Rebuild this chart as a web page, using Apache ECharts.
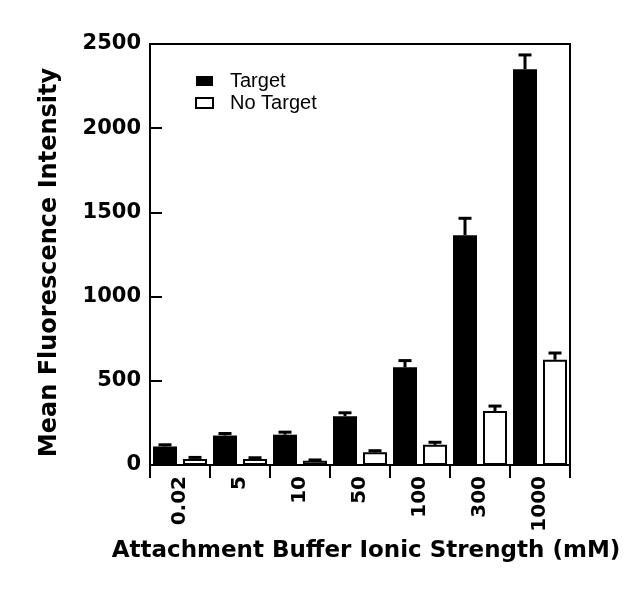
<!DOCTYPE html>
<html><head><meta charset="utf-8">
<script src="https://cdn.jsdelivr.net/npm/echarts@6/dist/echarts.min.js"></script>
<style>html,body{margin:0;padding:0;background:#fff}#c{width:641px;height:600px}</style>
</head><body><div id="c"></div>
<script>
const categories = ['0.02', '5', '10', '50', '100', '300', '1000'];
const targetValues = [110, 175, 180, 290, 580, 1365, 2350];
const targetErrors = [10, 12, 15, 20, 40, 100, 85];
const noTargetValues = [35, 35, 25, 75, 120, 320, 625];
const noTargetErrors = [10, 8, 5, 10, 15, 30, 40];
const yTicks = [0, 500, 1000, 1500, 2000, 2500];

const FONT = 'DejaVu Sans';
function errData(vals, errs) { return vals.map((v, i) => [i, v, errs[i]]); }
function errSeries(vals, errs, offset) {
  return {
    type: 'custom', z: 5,
    data: errData(vals, errs),
    encode: { x: 0, y: 1 },
    renderItem: function (params, api) {
      const i = api.value(0), v = api.value(1), e = api.value(2);
      const w = api.size([1, 0])[0];
      const base = api.coord([i, v]);
      const top = api.coord([i, v + e]);
      const x = base[0] + offset * w;
      return {
        type: 'group', children: [
          { type: 'line', shape: { x1: x, y1: base[1], x2: x, y2: top[1] }, style: { stroke: '#000', lineWidth: 3 } },
          { type: 'line', shape: { x1: x - 6.5, y1: top[1], x2: x + 6.5, y2: top[1] }, style: { stroke: '#000', lineWidth: 3 } }
        ]
      };
    }
  };
}

const chart = echarts.init(document.getElementById('c'), null, { renderer: 'canvas' });
chart.setOption({
  animation: false,
  backgroundColor: '#fff',
  grid: { left: 150, right: 71, top: 44, bottom: 135, show: true, borderColor: '#000', borderWidth: 2 },
  legend: {
    left: 190, top: 66, orient: 'vertical', itemWidth: 17, itemHeight: 10, itemGap: 2,
    textStyle: { fontFamily: 'Liberation Sans', fontSize: 20, color: '#000', padding: [0, 0, 0, 12] },
    data: [
      { name: 'Target', icon: 'rect', itemStyle: { color: '#000' } },
      { name: 'No Target', icon: 'rect', itemStyle: { color: '#fff', borderColor: '#000', borderWidth: 2 } }
    ]
  },
  xAxis: {
    type: 'category', data: categories,
    axisLine: { lineStyle: { color: '#000', width: 2 } },
    axisTick: { show: true, length: 13, lineStyle: { color: '#000', width: 2 } },
    axisLabel: { rotate: 90, margin: 11, fontFamily: FONT, fontWeight: 'bold', fontSize: 20, color: '#000' },
    name: 'Attachment Buffer Ionic Strength (mM)', nameLocation: 'middle', nameGap: 75,
    nameTextStyle: { fontFamily: FONT, fontWeight: 'bold', fontSize: 23, color: '#000', padding: [0, 0, 0, 12] }
  },
  yAxis: {
    type: 'value', min: 0, max: 2500, interval: 500,
    splitLine: { show: false },
    axisLine: { show: true, lineStyle: { color: '#000', width: 2 } },
    axisTick: { show: true, inside: true, length: 12, lineStyle: { color: '#000', width: 2 } },
    axisLabel: { margin: 9, fontFamily: FONT, fontWeight: 'bold', fontSize: 21, color: '#000',
      formatter: v => yTicks.includes(v) ? String(v) : '' },
    name: 'Mean Fluorescence Intensity', nameLocation: 'middle', nameGap: 88,
    nameTextStyle: { fontFamily: FONT, fontWeight: 'bold', fontSize: 24, color: '#000', padding: [0, 16, 0, 0] }
  },
  series: [
    { name: 'Target', type: 'bar', data: targetValues, barWidth: '40%', barGap: '25%',
      itemStyle: { color: '#000' } },
    { name: 'No Target', type: 'bar', data: noTargetValues, barWidth: '40%', barGap: '25%',
      itemStyle: { color: '#fff', borderColor: '#000', borderWidth: 2 } },
    errSeries(targetValues, targetErrors, -0.25),
    errSeries(noTargetValues, noTargetErrors, 0.25)
  ]
});
</script></body></html>
